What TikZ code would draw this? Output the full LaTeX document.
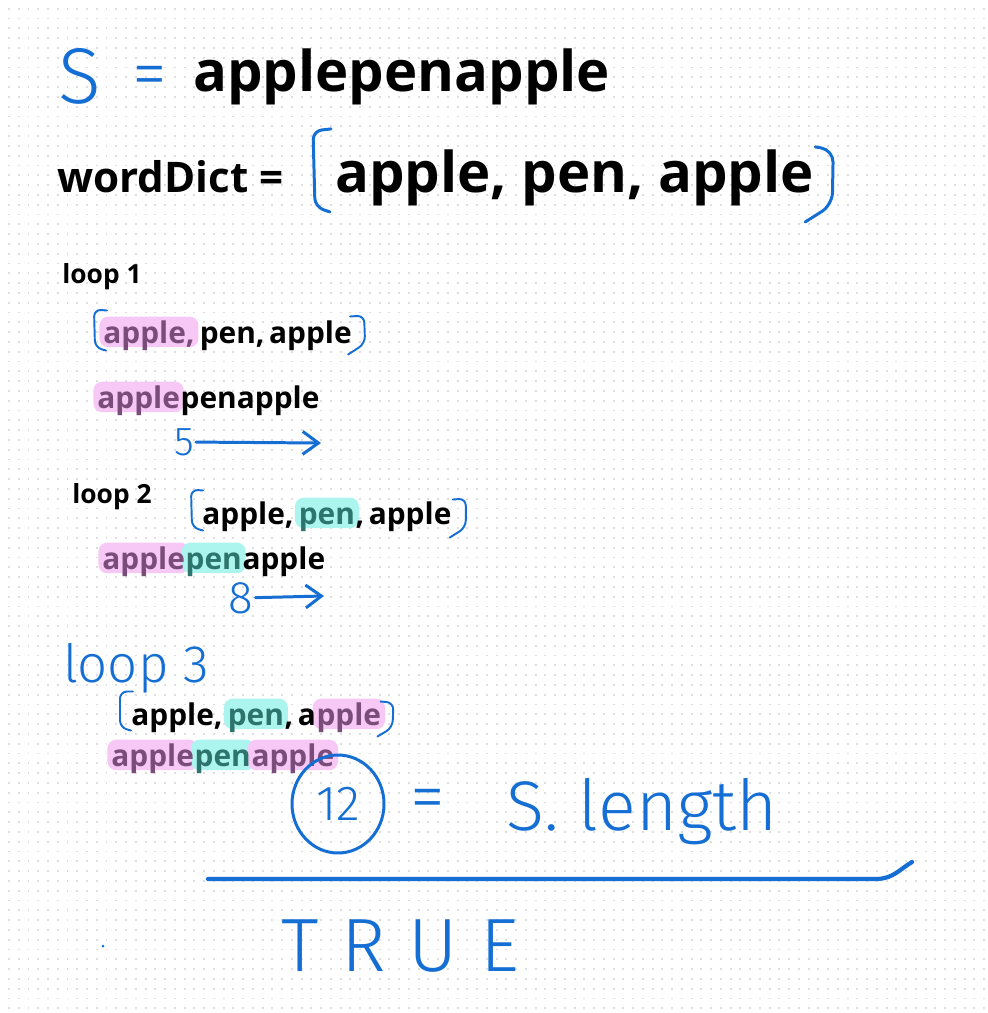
\documentclass[tikz,border=0pt]{standalone}
\usepackage{fontspec}
\setmainfont{Open Sans}
\newfontfamily\handfont{Fira Sans}[UprightFont={* Light}]
\usetikzlibrary{arrows.meta, positioning, fit, shapes.geometric}
\definecolor{ink}{RGB}{20,110,212}
\definecolor{pinkbg}{RGB}{247,200,245}
\definecolor{plum}{RGB}{122,76,122}
\definecolor{cyanbg}{RGB}{172,245,238}
\definecolor{tealtext}{RGB}{45,116,108}
\pgfdeclarelayer{dots}
\pgfdeclarelayer{marks}
\pgfsetlayers{dots,marks,main}

\begin{document}
\begin{tikzpicture}[
    x=0.02cm, y=-0.02cm,
    big/.style={font=\bfseries\fontsize{32}{38}\selectfont, inner sep=0pt, anchor=base west},
    label/.style={font=\bfseries\fontsize{#1}{#1}\selectfont, inner sep=0pt, anchor=base west},
    seg/.style={font=\bfseries\fontsize{17}{20}\selectfont, inner sep=0pt, anchor=base west,
                text height=12.6pt, text depth=0pt,
                execute at begin node={\spaceskip=0.15em\relax}},
    pinkseg/.style={seg, text=plum},
    cyanseg/.style={seg, text=tealtext},
    pinkmark/.style={fill=pinkbg, rounded corners=5pt, inner xsep=2pt, inner ysep=2.2pt},
    cyanmark/.style={fill=cyanbg, rounded corners=5pt, inner xsep=2pt, inner ysep=2.2pt},
    hand/.style={text=ink, inner sep=1pt, font=\handfont\fontsize{#1}{#1}\selectfont},
    pen/.style={ink, line width=1.7pt, line cap=round, line join=round},
    thinpen/.style={ink, line width=1.1pt, line cap=round, line join=round, rounded corners=4pt},
    handarrow/.style={pen, -{Straight Barb[length=9pt, width=13pt, line width=1.7pt]}},
    griddot/.style={black!13, line width=1.1pt, dash pattern=on 1.13pt off 4.42pt}
]
\useasboundingbox (0,0) rectangle (987,1013);
% dotted paper
\begin{pgfonlayer}{dots}
  \fill[white] (0,0) rectangle (987,1013);
  \foreach \r in {0,...,102}
    \draw[griddot] (8,8.7+9.8*\r) -- (987,8.7+9.8*\r);
\end{pgfonlayer}

% s = applepenapple
\node[hand=45] (sVar) at (80,76) {S};
\node[hand=40] (sEq) at (150,82) {=};
\node[big] (sVal) at (193,92) {applepenapple};

% wordDict = [apple, pen, apple]
\node[label=24] (dictLbl) at (57,193) {wordDict =};
\node[big] (dictList) at (335,193) {apple, pen, apple};
\draw[pen, rounded corners=5pt] ([shift={(-4,-21)}]dictList.north west) -- ++(-18,2) -- ++(2,76) -- ++(15,5);
\draw[pen, rounded corners=7pt] ([shift={(1,-3)}]dictList.north east) -- ++(18,3) -- ++(-1,55) -- ++(-27,17);

% loop 1
\node[label=15] (loopA) at (62,283) {loop 1};
\node[pinkseg] (l1a) at (103,343) {apple,};
\node[seg, base right=0pt of l1a] (l1b) {\kern0.15em pen, apple};
\draw[thinpen] ([shift={(4,-10)}]l1a.north west) -- ++(-13,-1) -- ++(1,38) -- ++(11,3);
\draw[thinpen] ([shift={(-2,-4)}]l1b.north east) -- ++(14,-1) -- ++(1,28) -- ++(-17,11);
\node[pinkseg] (w1a) at (97,408) {apple};
\node[seg, base right=0pt of w1a] (w1b) {penapple};
\node[hand=23] (fiveLbl) at (184,442) {5};
\coordinate (fiveEnd) at (321,443);
\draw[handarrow] (fiveLbl) -- (fiveEnd);

% loop 2
\node[label=15] (loopB) at (72,503) {loop 2};
\node[seg] (l2a) at (202,524) {apple,\kern0.15em};
\node[cyanseg, base right=0pt of l2a] (l2b) {pen};
\node[seg, base right=0pt of l2b] (l2c) {, apple};
\draw[thinpen] ([shift={(1,-11)}]l2a.north west) -- ++(-12,-1) -- ++(1,38) -- ++(11,3);
\draw[thinpen] ([shift={(1,-2)}]l2c.north east) -- ++(13,-1) -- ++(0,29) -- ++(-16,10);
\node[pinkseg] (w2a) at (102,569) {apple};
\node[cyanseg, base right=0pt of w2a] (w2b) {pen};
\node[seg, base right=0pt of w2b] (w2c) {apple};
\node[hand=26] (eightLbl) at (241,598) {8};
\coordinate (eightEnd) at (324,596);
\draw[handarrow] (eightLbl) -- (eightEnd);

% loop 3
\node[hand=30] (loopC) at (136,668) {loop 3};
\node[seg] (l3a) at (131,725) {apple,\kern0.15em};
\node[cyanseg, base right=0pt of l3a] (l3b) {pen};
\node[seg, base right=0pt of l3b] (l3c) {, a};
\node[pinkseg, base right=0pt of l3c] (l3d) {pple};
\draw[thinpen] ([shift={(2,-11)}]l3a.north west) -- ++(-13,0) -- ++(0,36) -- ++(11,3);
\draw[thinpen] ([shift={(-1,-1)}]l3d.north east) -- ++(13,1) -- ++(-1,25) -- ++(-15,9);
\node[pinkseg] (w3a) at (111,766) {apple};
\node[cyanseg, base right=0pt of w3a] (w3b) {pen};
\node[pinkseg, base right=0pt of w3b] (w3c) {apple};

% highlighter strokes
\begin{pgfonlayer}{marks}
  \foreach \n/\m in {l1a/pinkmark, w1a/pinkmark, l2b/cyanmark, w2a/pinkmark, w2b/cyanmark,
                     l3b/cyanmark, l3d/pinkmark, w3a/pinkmark, w3b/cyanmark, w3c/pinkmark}
    \node[\m, fit=(\n)] {};
\end{pgfonlayer}

% 12 = s.length
\node[hand=28, draw=ink, line width=1.7pt, ellipse, minimum width=1.84cm, minimum height=1.96cm] (twelve) at (338,804) {12};
\node[hand=40] (eqB) at (428,805) {=};
\node[hand=40] (sLen) at (642,812) {S. length};
\coordinate (lineL) at (208,879);
\coordinate (lineR) at (912,862);
\draw[pen, line width=2.4pt] (lineL) -- (876,879) .. controls (893,879) and (900,869) .. (lineR);

% result
\node[hand=43, font=\handfont\fontsize{43}{43}\selectfont\addfontfeature{LetterSpace=30}] (trueLbl) at (400,946) {TRUE};
\fill[ink] (103,946) circle (1.5);
\end{tikzpicture}
\end{document}
